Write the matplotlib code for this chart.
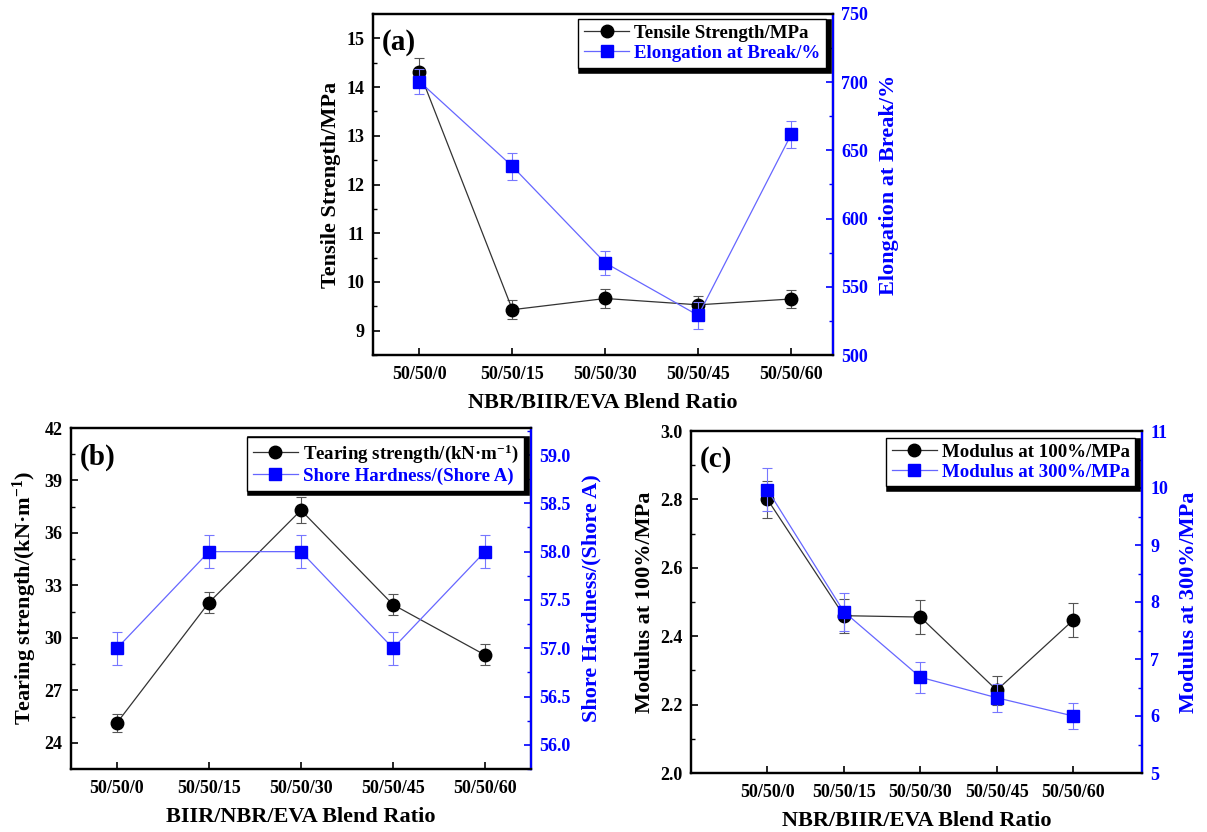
import matplotlib
matplotlib.use("Agg")
import matplotlib.pyplot as plt
import numpy as np

plt.rcParams['font.family'] = ['Liberation Serif', 'DejaVu Serif']
plt.rcParams['font.weight'] = 'bold'
plt.rcParams['axes.labelweight'] = 'bold'
plt.rcParams['mathtext.fontset'] = 'custom'
plt.rcParams['mathtext.rm'] = 'Liberation Serif:bold'
plt.rcParams['mathtext.bf'] = 'Liberation Serif:bold'
plt.rcParams['mathtext.it'] = 'Liberation Serif:bold'

categories = ["50/50/0", "50/50/15", "50/50/30", "50/50/45", "50/50/60"]

# (a)
tensile = [14.31, 9.43, 9.66, 9.53, 9.65]
tensile_err = [0.28, 0.20, 0.19, 0.19, 0.19]
elong = [700.5, 638.3, 567.5, 529.0, 661.7]
elong_err = [9.5, 10.0, 9.0, 10.0, 10.0]

# (b)
tear = [25.14, 32.02, 37.30, 31.90, 29.02]
tear_err = [0.52, 0.62, 0.75, 0.62, 0.60]
shore = [57.0, 58.0, 58.0, 57.0, 58.0]
shore_err = [0.17, 0.17, 0.17, 0.17, 0.17]

# (c)
mod100 = [2.80, 2.46, 2.456, 2.242, 2.447]
mod100_err = [0.055, 0.05, 0.05, 0.043, 0.05]
mod300 = [9.97, 7.83, 6.68, 6.32, 6.00]
mod300_err = [0.38, 0.33, 0.27, 0.25, 0.23]

BLUE = '#0000ff'
LBLUE = '#6666ff'
DARK = '#333333'
TICK_FS = 13
LABEL_FS = 16
LEG_FS = 13.6

W, H = 1207, 832
fig = plt.figure(figsize=(W / 100, H / 100), dpi=100)


def make_panel(rect, left_vals, left_err, right_vals, right_err, left_lim, right_lim,
               left_ticks, right_ticks, left_minor, right_minor, xlim, xlabel,
               left_label, right_label, leg_labels, panel_tag, leg_bbox,
               right_fmt=None):
    ax = fig.add_axes(rect)
    ax2 = ax.twinx()
    x = np.arange(len(categories))
    ax.errorbar(x, left_vals, yerr=left_err, color=DARK, lw=0.9, marker='o', ms=9,
                mfc='black', mec='black', ecolor='#555555', elinewidth=0.8,
                capsize=3.5, capthick=0.8, zorder=3)
    ax2.errorbar(x, right_vals, yerr=right_err, color=LBLUE, lw=0.9, marker='s', ms=8,
                 mfc=BLUE, mec=BLUE, ecolor='#7777ff', elinewidth=0.8,
                 capsize=3.5, capthick=0.8, zorder=3)
    ax.set_xlim(*xlim)
    ax.set_xticks(x)
    ax.set_xticklabels(categories)
    ax.set_ylim(*left_lim)
    ax.set_yticks(left_ticks)
    ax.set_yticks(left_minor, minor=True)
    ax2.set_ylim(*right_lim)
    ax2.set_yticks(right_ticks)
    ax2.set_yticks(right_minor, minor=True)
    if right_fmt:
        ax2.set_yticklabels([right_fmt.format(v) for v in right_ticks])
    for a in (ax, ax2):
        for s in a.spines.values():
            s.set_linewidth(1.6)
    ax2.spines['right'].set_color(BLUE)
    ax.tick_params(axis='both', which='major', direction='in', length=5, width=1.2,
                   labelsize=TICK_FS, pad=6)
    ax.tick_params(axis='y', which='minor', direction='in', length=3, width=1.0)
    ax.tick_params(axis='x', which='major', length=5, pad=8)
    ax2.tick_params(axis='y', which='major', direction='in', length=5, width=1.2,
                    labelsize=TICK_FS, colors=BLUE, pad=6)
    ax2.tick_params(axis='y', which='minor', direction='in', length=3, width=1.0,
                    colors=BLUE)
    for lab in ax.get_xticklabels() + ax.get_yticklabels() + ax2.get_yticklabels():
        lab.set_fontweight('bold')
    ax.set_xlabel(xlabel, fontsize=LABEL_FS, labelpad=7)
    ax.set_ylabel(left_label, fontsize=LABEL_FS, labelpad=4)
    ax2.set_ylabel(right_label, fontsize=LABEL_FS, color=BLUE, labelpad=8)
    ax.text(0.02, 0.955, panel_tag, transform=ax.transAxes, fontsize=21,
            fontweight='bold', va='top', ha='left')
    h1 = plt.Line2D([], [], color=DARK, lw=0.9, marker='o', ms=9, mfc='black', mec='black')
    h2 = plt.Line2D([], [], color=LBLUE, lw=0.9, marker='s', ms=8, mfc=BLUE, mec=BLUE)
    leg = ax2.legend([h1, h2], leg_labels, loc='upper right', bbox_to_anchor=leg_bbox,
                     fontsize=LEG_FS, frameon=True, fancybox=False,
                     shadow={'facecolor': 'black', 'edgecolor': 'black', 'alpha': 1,
                             'linewidth': 4},
                     handlelength=2.4, handletextpad=0.25, borderpad=0.3,
                     labelspacing=0.15, borderaxespad=0)
    leg.get_frame().set_edgecolor('black')
    leg.get_frame().set_linewidth(1.0)
    texts = leg.get_texts()
    texts[0].set_color('black')
    texts[1].set_color(BLUE)
    for t in texts:
        t.set_fontweight('bold')
    return ax, ax2


def frac(l, r, t, b):
    return [l / W, (H - b) / H, (r - l) / W, (b - t) / H]


make_panel(frac(373, 833, 14, 355), tensile, tensile_err, elong, elong_err,
           (8.5, 15.5), (500, 750),
           [9, 10, 11, 12, 13, 14, 15], [500, 550, 600, 650, 700, 750],
           [8.5, 9.5, 10.5, 11.5, 12.5, 13.5, 14.5], [525, 575, 625, 675, 725],
           (-0.5, 4.45), "NBR/BIIR/EVA Blend Ratio",
           "Tensile Strength/MPa", "Elongation at Break/%",
           ["Tensile Strength/MPa", "Elongation at Break/%"], "(a)",
           (0.985, 0.985))

make_panel(frac(71, 531, 428, 769), tear, tear_err, shore, shore_err,
           (22.5, 42), (55.75, 59.28),
           [24, 27, 30, 33, 36, 39, 42], [56.0, 56.5, 57.0, 57.5, 58.0, 58.5, 59.0],
           [25.5, 28.5, 31.5, 34.5, 37.5, 40.5], [55.75, 56.25, 56.75, 57.25, 57.75, 58.25, 58.75, 59.25],
           (-0.5, 4.5), "BIIR/NBR/EVA Blend Ratio",
           r"Tearing strength/(kN·m$^{-1}$)", "Shore Hardness/(Shore A)",
           [r"Tearing strength/(kN·m$^{-1}$)", "Shore Hardness/(Shore A)"], "(b)",
           (0.985, 0.975), right_fmt="{:.1f}")

make_panel(frac(691, 1142, 431, 773), mod100, mod100_err, mod300, mod300_err,
           (2.0, 3.0), (5, 11),
           [2.0, 2.2, 2.4, 2.6, 2.8, 3.0], [5, 6, 7, 8, 9, 10, 11],
           [2.1, 2.3, 2.5, 2.7, 2.9], [5.5, 6.5, 7.5, 8.5, 9.5, 10.5],
           (-1.0, 4.9), "NBR/BIIR/EVA Blend Ratio",
           "Modulus at 100%/MPa", "Modulus at 300%/MPa",
           ["Modulus at 100%/MPa", "Modulus at 300%/MPa"], "(c)",
           (0.985, 0.98))

fig.savefig("out.png", dpi=100)
